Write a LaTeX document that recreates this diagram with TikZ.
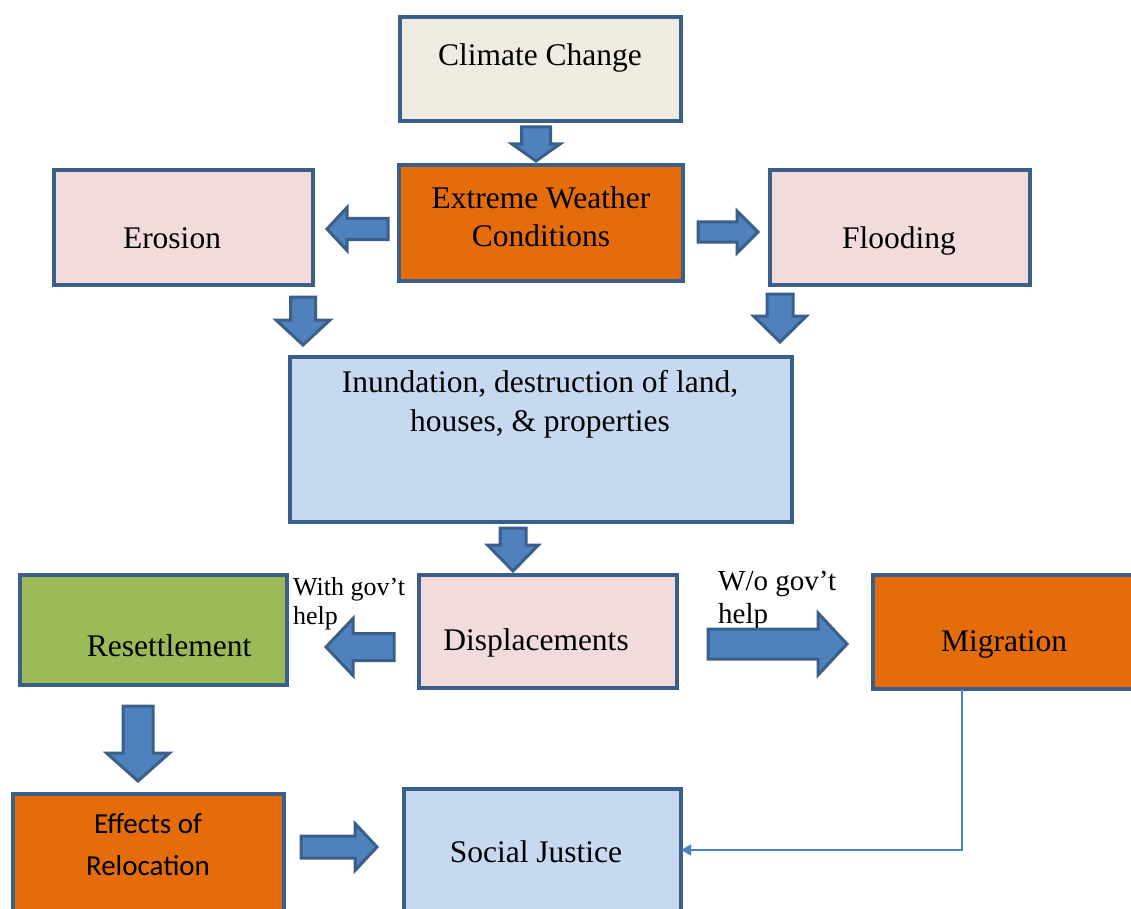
\documentclass[tikz,border=0pt]{standalone}
\usepackage{fontspec}
\setmainfont{Liberation Serif}
\newfontfamily\calibri{Carlito}
\usetikzlibrary{arrows.meta}
\definecolor{bordc}{HTML}{3A5F8B}
\definecolor{beigec}{HTML}{EEECE1}
\definecolor{orangec}{HTML}{E46C0A}
\definecolor{pinkc}{HTML}{F2DCDB}
\definecolor{bluec}{HTML}{C6D9F1}
\definecolor{greenc}{HTML}{9BBB59}
\definecolor{arrc}{HTML}{4F81BD}
\newcommand\bvarrow[6]{% xc, y0, yh, y1, shaft half, head half
  \draw[blockarr] ({#1-#5},#2) -- ({#1-#5},#3) -- ({#1-#6},#3) -- (#1,#4) -- ({#1+#6},#3) -- ({#1+#5},#3) -- ({#1+#5},#2) -- cycle;}
\newcommand\bharrow[6]{% yc, x0, xh, x1, shaft half, head half
  \draw[blockarr] (#2,{#1-#5}) -- (#3,{#1-#5}) -- (#3,{#1-#6}) -- (#4,#1) -- (#3,{#1+#6}) -- (#3,{#1+#5}) -- (#2,{#1+#5}) -- cycle;}
\tikzset{
  box/.style={draw=bordc, line width=4pt, inner sep=0pt, outer sep=0pt},
  txt/.style={font=\fontsize{31.5}{38.5}\selectfont, align=center, anchor=base, inner sep=0pt},
  small/.style={font=\fontsize{27}{32}\selectfont, align=left, anchor=base west, inner sep=0pt},
  blockarr/.style={fill=arrc, draw=bordc, line width=3pt, line join=miter},
  thin/.style={draw=arrc, line width=1.5pt, -{Triangle[length=10pt,width=11pt]}}
}
\begin{document}
\begin{tikzpicture}[x=1pt,y=-1pt]
\useasboundingbox (0,0) rectangle (1131,909);
\clip (0,0) rectangle (1131,909);
% boxes
\node[box, fill=beigec, minimum width=281, minimum height=104] (cc) at (540.5,69) {};
\node[box, fill=orangec, minimum width=284, minimum height=116] (ew) at (541,223) {};
\node[box, fill=pinkc, minimum width=259, minimum height=115] (er) at (183.5,227.5) {};
\node[box, fill=pinkc, minimum width=260, minimum height=115] (fl) at (900,227.5) {};
\node[box, fill=bluec, minimum width=502, minimum height=165] (in) at (541,439.5) {};
\node[box, fill=pinkc, minimum width=258, minimum height=113] (di) at (548,631.5) {};
\node[box, fill=greenc, minimum width=267, minimum height=110] (re) at (153.5,630) {};
\node[box, fill=orangec, minimum width=277, minimum height=114] (mi) at (1011.5,632) {};
\node[box, fill=orangec, minimum width=271, minimum height=136] (ef) at (148.5,862) {};
\node[box, fill=bluec, minimum width=277, minimum height=141] (sj) at (542.5,859.5) {};
% texts (base = baseline of last line)
\node[txt] (tcc) at (540,66) {Climate Change};
\node[txt] (tew) at (541,247) {Extreme Weather\\Conditions};
\node[txt] (ter) at (172,248) {Erosion};
\node[txt] (tfl) at (899,248) {Flooding};
\node[txt] (tin) at (540,431) {Inundation, destruction of land,\\houses, \& properties};
\node[txt] (tdi) at (536,650) {Displacements};
\node[txt] (tre) at (169,656) {Resettlement};
\node[txt] (tmi) at (1004,651) {Migration};
\node[txt, font=\calibri\fontsize{29}{42}\selectfont] (tef) at (148,875) {Effects of\\Relocation};
\node[txt] (tsj) at (536,862) {Social Justice};
\node[small, font=\fontsize{26}{29}\selectfont] (lw) at (293,624) {With gov’t\\help};
\node[small, font=\fontsize{29}{33}\selectfont] (lwo) at (718,623) {W/o gov’t\\help};
% block arrows
\bvarrow{536}{127}{144}{161}{14.5}{24}
\bharrow{229}{388}{347}{327}{10.5}{21.5}
\bharrow{232}{698}{737}{758}{10}{21}
\bvarrow{303}{297}{320}{345}{12.5}{27}
\bvarrow{780}{294}{316}{342}{13}{26.5}
\bvarrow{513}{528}{545}{571}{13}{25.5}
\bharrow{647}{394}{353}{326}{13.5}{28.5}
\bharrow{644}{708}{818}{847}{15}{31}
\bvarrow{138}{706}{753}{781}{15}{31.5}
\bharrow{847}{301}{355}{377}{11}{23.5}
% thin connector
\coordinate (bend) at (962,850);
\draw[thin] (mi.south -| bend) -- (bend) -- (sj.east |- bend);
\end{tikzpicture}
\end{document}
